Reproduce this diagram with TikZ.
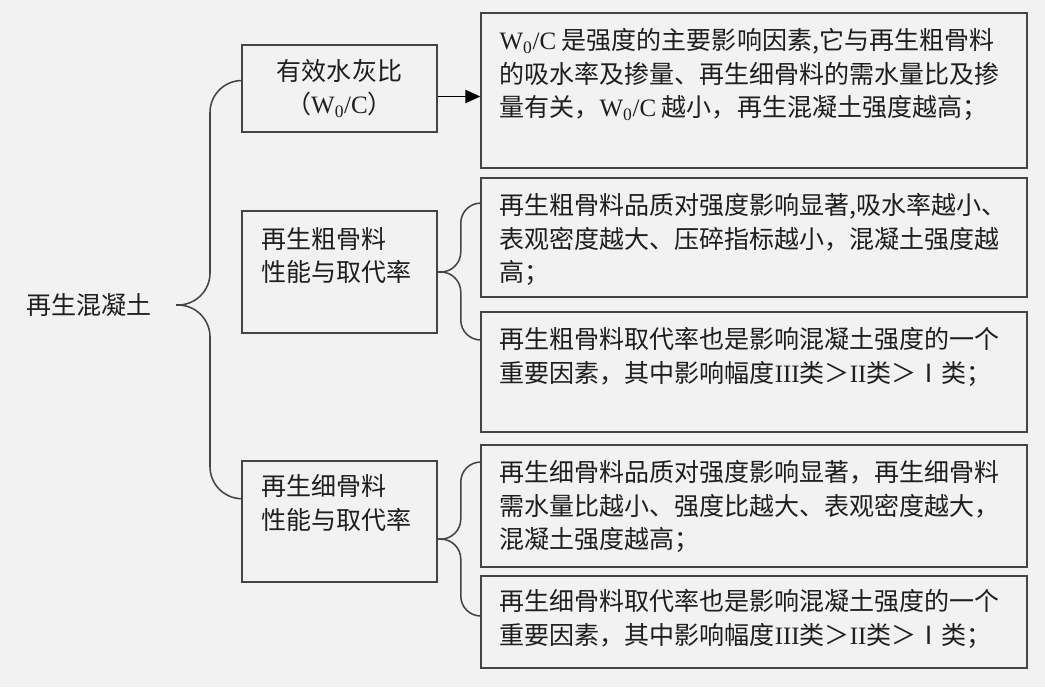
\documentclass[tikz,border=0pt]{standalone}
\usepackage{fontspec}
\setmainfont{Liberation Serif}
\newfontfamily\cjk{Noto Sans CJK SC}
\usetikzlibrary{arrows.meta}
\definecolor{bgcol}{HTML}{F2F2F2}
\definecolor{linecol}{HTML}{444444}
\definecolor{txtcol}{HTML}{1E1E1E}
\newcommand{\wzc}{{\rmfamily W\textsubscript{0}/C}}
\newcommand{\lvl}[1]{{\rmfamily #1}}

\begin{document}
\begin{tikzpicture}[>={Triangle[length=0.37cm,width=0.33cm]},
    every node/.style={font=\cjk\fontsize{17.8}{23.8}\selectfont, text=txtcol},
    box/.style={draw=linecol, line width=1.1pt, inner sep=0pt},
    lbox/.style={box, minimum width=4.875cm},
    rbox/.style={box, minimum width=13.65cm},
    txt/.style={inner sep=0pt, anchor=north west, align=left},
    brace/.style={draw=linecol, line width=1.1pt, rounded corners=#1},
    brace/.default=0.5cm]
    \fill[bgcol] (0,0) rectangle (26.125,-17.175);

    \node (hnt) at (2.225,-7.625) {再生混凝土};
    \coordinate (tip) at (4.4,-7.625);

    \node[lbox, minimum height=2.175cm, align=center] (wc) at (8.4875,-2.2125) {有效水灰比\\（\wzc）};
    \node[lbox, minimum height=3.05cm] (cg) at (8.4875,-6.8) {};
    \node[lbox, minimum height=3.025cm] (fg) at (8.4875,-13.0375) {};
    \node[txt] (cgt) at ([shift={(0.5,-0.42)}]cg.north west) {再生粗骨料\\性能与取代率};
    \node[txt] (fgt) at ([shift={(0.5,-0.35)}]fg.north west) {再生细骨料\\性能与取代率};

    \node[rbox, minimum height=3.875cm] (r1) at (18.85,-2.2625) {};
    \node[rbox, minimum height=2.975cm] (r2) at (18.85,-5.9375) {};
    \node[rbox, minimum height=3.0cm] (r3) at (18.85,-9.3) {};
    \node[rbox, minimum height=3.05cm] (r4) at (18.85,-12.65) {};
    \node[rbox, minimum height=2.3cm] (r5) at (18.85,-15.55) {};

    \node[txt] (r1t) at ([shift={(0.475,-0.4)}]r1.north west) {\wzc{} 是强度的主要影响因素,它与再生粗骨料\\的吸水率及掺量、再生细骨料的需水量比及掺\\量有关，\wzc{} 越小，再生混凝土强度越高；};
    \node[txt] (r2t) at ([shift={(0.475,-0.4)}]r2.north west) {再生粗骨料品质对强度影响显著,吸水率越小、\\表观密度越大、压碎指标越小，混凝土强度越\\高；};
    \node[txt] (r3t) at ([shift={(0.475,-0.4)}]r3.north west) {再生粗骨料取代率也是影响混凝土强度的一个\\重要因素，其中影响幅度\lvl{III}类＞\lvl{II}类＞Ⅰ类；};
    \node[txt] (r4t) at ([shift={(0.475,-0.4)}]r4.north west) {再生细骨料品质对强度影响显著，再生细骨料\\需水量比越小、强度比越大、表观密度越大，\\混凝土强度越高；};
    \node[txt] (r5t) at ([shift={(0.475,-0.35)}]r5.north west) {再生细骨料取代率也是影响混凝土强度的一个\\重要因素，其中影响幅度\lvl{III}类＞\lvl{II}类＞Ⅰ类；};

    \draw[brace=0.8cm] ([yshift=0.2cm]wc.west) -| ([xshift=0.85cm]tip) -- (tip);
    \draw[brace=0.8cm] ([yshift=0.57cm]fg.west) -| ([xshift=0.85cm]tip) -- (tip);

    \draw[brace] (cg.east) -- ++(0.575,0) |- ([yshift=0.86cm]r2.west);
    \draw[brace] (cg.east) -- ++(0.575,0) |- ([yshift=0.8cm]r3.west);
    \draw[brace] ([yshift=-0.44cm]fg.east) -- ++(0.575,0) |- ([yshift=1.1cm]r4.west);
    \draw[brace] ([yshift=-0.44cm]fg.east) -- ++(0.575,0) |- ([yshift=0.15cm]r5.west);

    \coordinate (arr) at ([yshift=-0.2cm]wc.east);
    \draw[->, draw=black, line width=1.1pt] (arr) -- (arr -| r1.west);
\end{tikzpicture}
\end{document}
